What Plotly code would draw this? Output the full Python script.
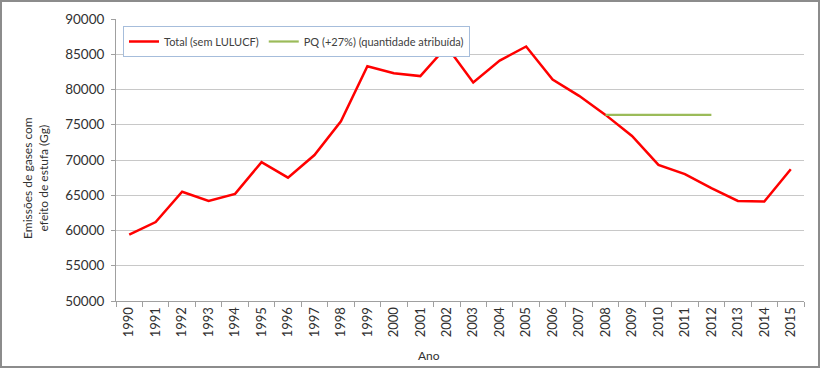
import plotly.graph_objects as go

years = [str(y) for y in range(1990, 2016)]
total = [59400, 61200, 65500, 64200, 65200, 69700, 67500, 70700, 75500, 83300,
         82300, 81900, 86100, 81000, 84100, 86100, 81400, 79100, 76400, 73400,
         69300, 68000, 66000, 64200, 64100, 68700]
pq_years = ["2008", "2009", "2010", "2011", "2012"]
pq_values = [76400, 76400, 76400, 76400, 76400]

W, H = 820, 368
ml, mr, mt, mb = 116, 16, 19, 67
pw, ph = W - ml - mr, H - mt - mb


def px_x(x):
    return (x - ml) / pw


def px_y(y):
    return 1 - (y - mt) / ph


fig = go.Figure()
fig.add_trace(go.Scatter(x=years, y=total, mode="lines", name="Total (sem LULUCF)",
                         line=dict(color="#ff0000", width=2.5)))
fig.add_trace(go.Scatter(x=pq_years, y=pq_values, mode="lines",
                         name="PQ (+27%) (quantidade atribuída)",
                         line=dict(color="#9bbb59", width=2.2)))

font = "Lato, Open Sans, Liberation Sans, sans-serif"
fig.update_layout(
    width=W, height=H,
    margin=dict(l=ml, r=mr, t=mt, b=mb, autoexpand=False),
    paper_bgcolor="white", plot_bgcolor="white",
    font=dict(family=font, size=12, color="#404040"),
    showlegend=True,
    legend=dict(orientation="h", x=px_x(123), y=px_y(26),
                xanchor="left", yanchor="top",
                bordercolor="#a6bddb", borderwidth=1, bgcolor="white",
                font=dict(size=11, color="#404040"), itemwidth=30),
    xaxis=dict(type="category", categoryorder="array", categoryarray=years,
               range=[-0.5, len(years) - 0.5], automargin=False,
               tickangle=-90, tickson="boundaries", ticks="outside", ticklen=5,
               tickcolor="#a0a0a0", showline=True, linecolor="#a0a0a0",
               showgrid=False, tickfont=dict(size=13, color="#303030")),
    yaxis=dict(range=[50000, 90000], dtick=5000, tickformat="d", automargin=False,
               showgrid=True, gridcolor="#c8c8c8",
               ticks="outside", ticklen=4, tickcolor="#a0a0a0", ticklabelstandoff=4,
               showline=True, linecolor="#a0a0a0", zeroline=False,
               tickfont=dict(size=13.5, color="#303030")),
    annotations=[
        dict(text="Emissões de gases com<br>efeito de estufa (Gg)", textangle=-90,
             xref="paper", yref="paper", x=px_x(35), y=px_y(178), align="center",
             xanchor="center", yanchor="middle", showarrow=False,
             font=dict(size=12, color="#303030")),
        dict(text="Ano", xref="paper", yref="paper", x=px_x(429), y=px_y(356),
             xanchor="center", yanchor="middle", showarrow=False,
             font=dict(size=12, color="#303030")),
    ],
    shapes=[dict(type="rect", xref="paper", yref="paper",
                 x0=-(ml - 1) / pw, x1=1 + (mr - 1) / pw,
                 y0=-(mb - 1) / ph, y1=1 + (mt - 1) / ph,
                 line=dict(color="#8c8c8c", width=2))],
)

fig.write_html("out.html", config={"displayModeBar": False},
               post_script="document.body.style.margin='0px';")
